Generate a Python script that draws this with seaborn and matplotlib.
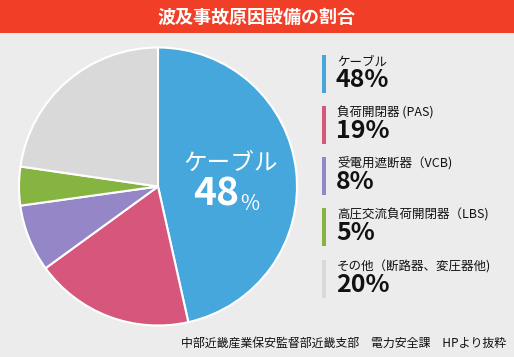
import matplotlib
matplotlib.use("Agg")
import matplotlib.pyplot as plt
from matplotlib.patches import Rectangle
import seaborn as sns

title = "波及事故原因設備の割合"
categories = ["ケーブル", "負荷開閉器 (PAS)", "受電用遮断器（VCB)", "高圧交流負荷開閉器（LBS)", "その他（断路器、変圧器他)"]
# slice sizes as drawn in the picture
slice_shares = [46.5, 18.5, 7.8, 4.5, 22.7]
# percentages as printed
pct_labels = ["48%", "19%", "8%", "5%", "20%"]
center_number = "48"
colors = ["#45a7dc", "#d6577b", "#9586c8", "#86b441", "#d9d9d9"]
source = "中部近畿産業保安監督部近畿支部　電力安全課　HPより抜粋"

sns.set_theme(style="white")
plt.rcParams['font.family'] = ['Noto Sans CJK JP', 'DejaVu Sans']

W, H = 514, 357
fig = plt.figure(figsize=(W / 100, H / 100), dpi=100)
fig.patch.set_facecolor("#ececec")

def fx(px):
    return px / W

def fy(py):
    return 1 - py / H

# title bar
fig.patches.append(Rectangle((0, fy(33)), 1, 33 / H, transform=fig.transFigure,
                             facecolor="#f03f26", edgecolor="none", zorder=0))
fig.text(0.5, fy(17), title, color="white", fontsize=13, fontweight="bold",
         ha="center", va="center")

# pie
cx, cy, r = 158, 186.5, 139
ax = fig.add_axes([fx(cx - r), fy(cy + r), 2 * r / W, 2 * r / H])
ax.set_facecolor("none")
pal = sns.color_palette(colors)
ax.pie(slice_shares, colors=pal, startangle=90, counterclock=False, radius=1,
       wedgeprops=dict(edgecolor="white", linewidth=1.5))
ax.set_xlim(-1, 1)
ax.set_ylim(-1, 1)
ax.set_aspect("equal")
ax.axis("off")

# center label
fig.text(fx(231), fy(163), categories[0], color="white", fontsize=17,
         ha="center", va="center")
fig.text(fx(239), fy(194), center_number, color="white", fontsize=28,
         fontweight="bold", ha="right", va="center")
fig.text(fx(240), fy(204), "%", color="white", fontsize=15,
         ha="left", va="center")

# legend
bar_tops = [55, 106, 157, 208, 260]
for i, (cat, pl, col) in enumerate(zip(categories, pct_labels, colors)):
    top = bar_tops[i]
    fig.patches.append(Rectangle((fx(322), fy(top + 38)), 4 / W, 38 / H,
                                 transform=fig.transFigure, facecolor=col,
                                 edgecolor="none"))
    fig.text(fx(337), fy(top + 7), cat, color="#111111", fontsize=9,
             ha="left", va="center")
    fig.text(fx(336), fy(top + 25), pl, color="#111111", fontsize=18,
             fontweight="bold", ha="left", va="center")

fig.text(fx(506), fy(343), source, color="#111111", fontsize=8.6,
         ha="right", va="center")

fig.savefig("out.png", dpi=100, facecolor=fig.get_facecolor())
